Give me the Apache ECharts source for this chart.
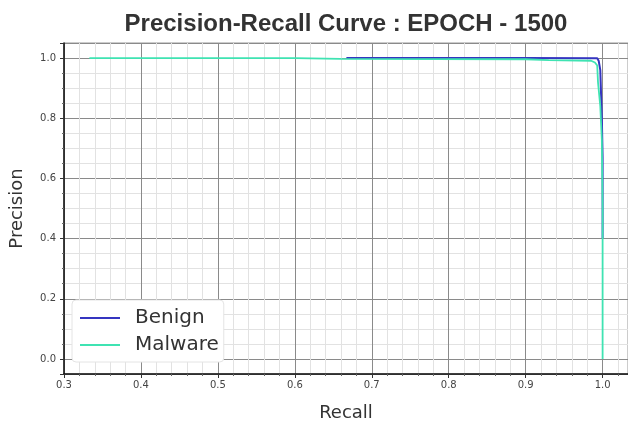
<!DOCTYPE html>
<html>
<head>
<meta charset="utf-8">
<script src="https://cdn.jsdelivr.net/npm/echarts@6/dist/echarts.min.js"></script>
<style>
  html, body { margin: 0; padding: 0; background: #fff; }
  #chart { width: 628px; height: 424px; }
</style>
</head>
<body>
<div id="chart"></div>
<script>
// recall / precision pairs
const benignRecall = [0.667, 0.80, 0.90, 0.993, 0.995, 0.997, 0.999, 1.0, 1.0]
const benignPrecision = [1.0, 1.0, 1.0, 0.999, 0.99, 0.96, 0.80, 0.67, 0.40]

const malwareRecall = [0.333, 0.50, 0.60, 0.66, 0.90, 0.93, 0.985, 0.99, 0.993, 0.994, 0.997, 0.999, 1.0, 1.0]
const malwarePrecision = [1.0, 1.0, 1.0, 0.997, 0.996, 0.993, 0.991, 0.985, 0.975, 0.92, 0.84, 0.73, 0.50, 0.0]

const seriesNames = ['Benign', 'Malware']
const seriesColors = ['#3535c0', '#3fe3b2']

const zip = (xs, ys) => xs.map((x, i) => [x, ys[i]])

const chart = echarts.init(document.getElementById('chart'))

const labelFont = { color: '#444', fontSize: 10, fontFamily: 'DejaVu Sans' }

const option = {
    animation: false,
    backgroundColor: '#fff',
    title: {
        text: 'Precision-Recall Curve : EPOCH - 1500',
        left: 341,
        textAlign: 'center',
        top: 7,
        textStyle: {
            fontFamily: 'Liberation Sans',
            fontWeight: 'bold',
            fontSize: 24,
            color: '#333',
        },
    },
    grid: {
        left: 64,
        right: 0,
        top: 43,
        bottom: 50,
        outerBoundsMode: 'none',
        containLabel: false,
        show: true,
        borderColor: '#999',
        borderWidth: 1,
    },
    legend: {
        data: seriesNames,
        orient: 'vertical',
        left: 72,
        top: 300,
        padding: [8, 5, 7, 8],
        itemGap: 7,
        itemWidth: 40,
        itemHeight: 2,
        icon: 'rect',
        backgroundColor: '#fff',
        borderColor: '#e4e4e4',
        borderWidth: 1,
        borderRadius: 4,
        textStyle: {
            fontFamily: 'DejaVu Sans',
            fontSize: 20,
            color: '#333',
            padding: [0, 0, 0, 10],
        },
    },
    xAxis: {
        type: 'value',
        min: 0.3,
        max: 1.033,
        interval: 0.1,
        name: 'Recall',
        nameLocation: 'middle',
        nameGap: 30,
        nameTextStyle: { fontFamily: 'DejaVu Sans', fontSize: 18, color: '#333' },
        axisLine: { show: true, onZero: false, lineStyle: { color: '#111', width: 1.5 } },
        axisTick: { show: true, length: 4, lineStyle: { color: '#333' } },
        minorTick: { show: true, splitNumber: 5, length: 2, lineStyle: { color: '#666' } },
        axisLabel: {
            ...labelFont,
            margin: 6,
            formatter: (v) => (Math.abs(v * 10 - Math.round(v * 10)) < 1e-6 ? v.toFixed(1) : ''),
        },
        splitLine: { show: true, lineStyle: { color: '#8a8a8a', width: 1 } },
        minorSplitLine: { show: true, lineStyle: { color: '#e2e2e2', width: 1 } },
    },
    yAxis: {
        type: 'value',
        min: -0.05,
        max: 1.05,
        splitNumber: 5,
        name: 'Precision',
        nameLocation: 'middle',
        nameGap: 38,
        nameTextStyle: { fontFamily: 'DejaVu Sans', fontSize: 18, color: '#333' },
        axisLine: { show: true, onZero: false, lineStyle: { color: '#111', width: 1.5 } },
        axisTick: { show: true, length: 4, lineStyle: { color: '#333' } },
        minorTick: { show: true, splitNumber: 4, length: 2, lineStyle: { color: '#666' } },
        axisLabel: {
            ...labelFont,
            margin: 8,
            formatter: (v) => (Math.abs(v * 5 - Math.round(v * 5)) < 1e-6 ? v.toFixed(1) : ''),
        },
        splitLine: { show: true, lineStyle: { color: '#8a8a8a', width: 1 } },
        minorSplitLine: { show: true, lineStyle: { color: '#e2e2e2', width: 1 } },
    },
    series: [
        {
            name: seriesNames[0],
            type: 'line',
            data: zip(benignRecall, benignPrecision),
            showSymbol: false,
            color: seriesColors[0],
            lineStyle: { width: 2 },
        },
        {
            name: seriesNames[1],
            type: 'line',
            data: zip(malwareRecall, malwarePrecision),
            showSymbol: false,
            color: seriesColors[1],
            lineStyle: { width: 1.8 },
        },
    ],
}

chart.setOption(option)
</script>
</body>
</html>
